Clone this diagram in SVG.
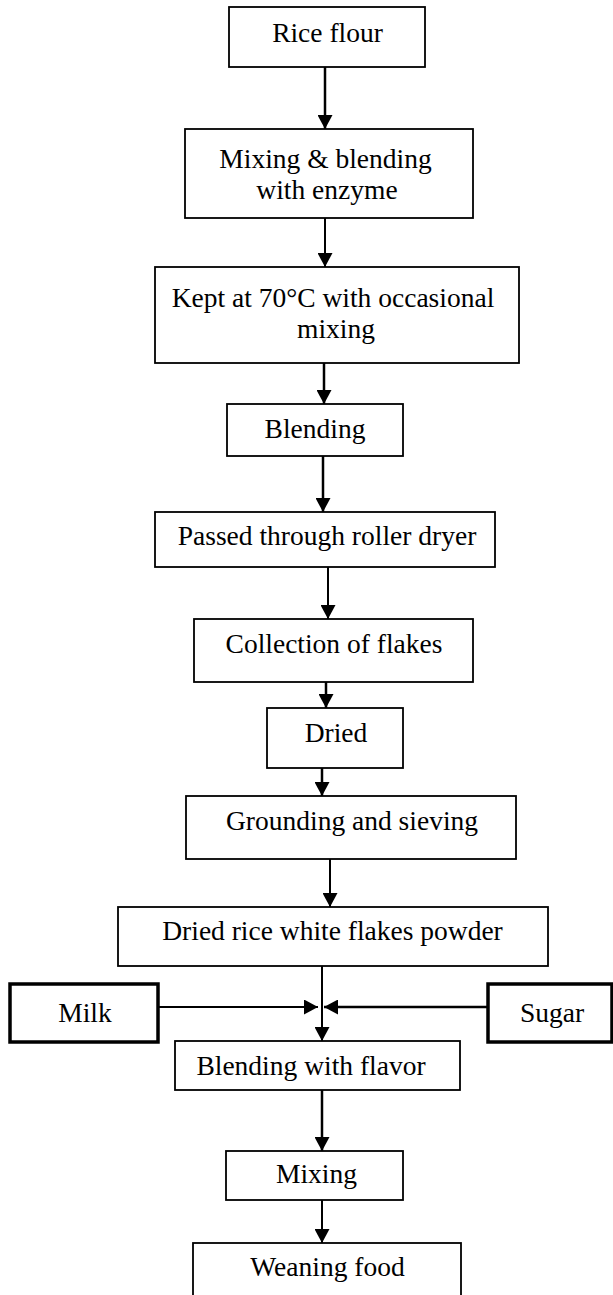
<svg xmlns="http://www.w3.org/2000/svg" width="613" height="1295" viewBox="0 0 613 1295">
<style>
.box{fill:#fff;stroke:#000;stroke-width:1.8}
.thick{fill:#fff;stroke:#000;stroke-width:3.5}
.t{font-family:"Liberation Serif","Times New Roman",serif;font-size:27.5px;fill:#000;text-anchor:middle}
.c{stroke:#000;stroke-width:2;fill:none}
</style>
<defs>
<marker id="ah" markerUnits="userSpaceOnUse" markerWidth="15" markerHeight="15" refX="14" refY="7.5" orient="auto" viewBox="0 0 15 15">
<path d="M0,0 L14,7.5 L0,15 z" fill="#000"/>
</marker>
</defs>
<rect width="613" height="1295" fill="#fff"/>
<g id="connectors">
<line class="c" x1="325" y1="67" x2="325" y2="129" marker-end="url(#ah)" style="stroke-width:2.5"/>
<line class="c" x1="325" y1="218" x2="325" y2="267" marker-end="url(#ah)"/>
<line class="c" x1="324" y1="363" x2="324" y2="404" marker-end="url(#ah)" style="stroke-width:2.5"/>
<line class="c" x1="323" y1="456" x2="323" y2="512" marker-end="url(#ah)" style="stroke-width:2.5"/>
<line class="c" x1="328" y1="567" x2="328" y2="619" marker-end="url(#ah)"/>
<line class="c" x1="326" y1="682" x2="326" y2="708" marker-end="url(#ah)" style="stroke-width:2.5"/>
<line class="c" x1="322" y1="768" x2="322" y2="796" marker-end="url(#ah)" style="stroke-width:2.5"/>
<line class="c" x1="330" y1="859" x2="330" y2="907" marker-end="url(#ah)"/>
<line class="c" x1="322" y1="966" x2="322" y2="1041" marker-end="url(#ah)"/>
<line class="c" x1="158" y1="1007" x2="318" y2="1007" marker-end="url(#ah)"/>
<line class="c" x1="488" y1="1007" x2="324" y2="1007" marker-end="url(#ah)" style="stroke-width:2.5"/>
<line class="c" x1="322" y1="1090" x2="322" y2="1151" marker-end="url(#ah)" style="stroke-width:2.5"/>
<line class="c" x1="322" y1="1200" x2="322" y2="1243" marker-end="url(#ah)"/>
</g>
<g id="n1"><rect class="box" x="229" y="7" width="196" height="60"/><text class="t" x="327.5" y="42">Rice flour</text></g>
<g id="n2"><rect class="box" x="185" y="129" width="288" height="89"/><text class="t" x="325.5" y="168">Mixing &amp; blending</text><text class="t" x="327" y="199">with enzyme</text></g>
<g id="n3"><rect class="box" x="155" y="267" width="364" height="96"/><text class="t" x="333" y="307">Kept at 70°C with occasional</text><text class="t" x="336" y="338">mixing</text></g>
<g id="n4"><rect class="box" x="227" y="404" width="176" height="52"/><text class="t" x="315" y="438">Blending</text></g>
<g id="n5"><rect class="box" x="155" y="512" width="340" height="55"/><text class="t" x="327" y="545">Passed through roller dryer</text></g>
<g id="n6"><rect class="box" x="194" y="619" width="279" height="63"/><text class="t" x="334" y="653">Collection of flakes</text></g>
<g id="n7"><rect class="box" x="267" y="708" width="136" height="60"/><text class="t" x="336" y="742">Dried</text></g>
<g id="n8"><rect class="box" x="186" y="796" width="330" height="63"/><text class="t" x="352" y="830">Grounding and sieving</text></g>
<g id="n9"><rect class="box" x="118" y="907" width="430" height="59"/><text class="t" x="332.5" y="940">Dried rice white flakes powder</text></g>
<g id="milk"><rect class="thick" x="10" y="984" width="148" height="58"/><text class="t" x="85" y="1022">Milk</text></g>
<g id="sugar"><rect class="thick" x="488" y="984" width="124" height="58"/><text class="t" x="552" y="1022">Sugar</text></g>
<g id="n10"><rect class="box" x="175" y="1041" width="285" height="49"/><text class="t" x="311" y="1075">Blending with flavor</text></g>
<g id="n11"><rect class="box" x="226" y="1151" width="177" height="49"/><text class="t" x="316.5" y="1183">Mixing</text></g>
<g id="n12"><rect class="box" x="193" y="1243" width="268" height="70"/><text class="t" x="327.5" y="1276">Weaning food</text></g>
</svg>
